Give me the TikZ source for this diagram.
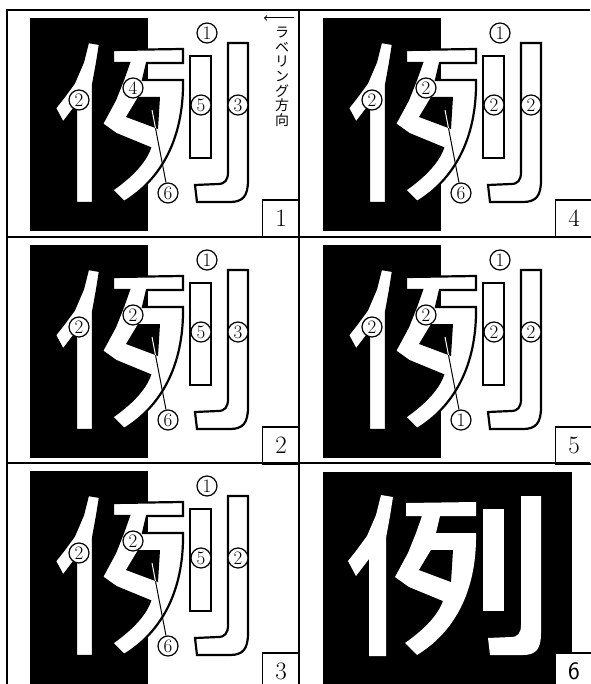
\documentclass[tikz,border=0pt]{standalone}
\usepackage{fontspec}
\newfontfamily\jpfont{Noto Sans CJK JP}

% strokes of the character, in pixels of one panel
\newcommand{\ninben}{(88,42) -- (83,62) -- (74,83) -- (63,98) -- (55,108) -- (63,123) -- (76,106) -- (76,203) -- (93,203) -- (93,85) -- (97,63) -- (100,44) -- cycle}
\newcommand{\gatsu}{(113,50) -- (183,49) -- (183,63) -- (147,63) -- (143,80) -- (183,80) .. controls (184,140) and (160,180) .. (124,202) -- (112,190) .. controls (132,176) and (145,162) .. (150,148) -- (116,134) -- (102,124) -- (115,100) -- (123,80) -- (129,63) -- (113,63) -- cycle}
\newcommand{\gatsuhollow}{(138,97) -- (160,97) -- (158,129) -- (126,117) -- cycle}
\newcommand{\shortbar}{(190,56) rectangle (211,158)}
\newcommand{\hookstroke}{(228,43) -- (248,43) -- (248,180) .. controls (248,196) and (243,202) .. (230,202) -- (197,202) -- (195,185) -- (218,184) .. controls (225,184) and (228,180) .. (228,172) -- cycle}

% character on the half black ground
\newcommand{\halfglyph}{%
  \fill (30,18) rectangle (148,231);
  \filldraw[glyph] \ninben;
  \filldraw[glyph] \gatsu;
  \filldraw[glyph] \shortbar;
  \filldraw[glyph] \hookstroke;
  \fill \gatsuhollow;
}

\begin{document}
\begin{tikzpicture}[x=1pt, y=-1pt, >=to,
    glyph/.style={fill=white, draw=black, line width=2.2pt},
    lbl/.style={circle, draw, fill=white, line width=1.2pt, minimum size=20pt, inner sep=0pt, font=\fontsize{19}{19}\selectfont},
    numbox/.style={draw, fill=white, line width=1.2pt, minimum width=37pt, minimum height=37pt, inner sep=0pt, font=\fontsize{25}{25}\selectfont}]
  \useasboundingbox (0,0) rectangle (590,684);

  % Panel 1
  \begin{scope}[shift={(0,0)}]
    \halfglyph
    \coordinate (p1tip) at (152,110);
    \node[lbl] (p1a) at (207,33) {1};
    \node[lbl] (p1b) at (79,100) {2};
    \node[lbl] (p1c) at (133,88) {4};
    \node[lbl] (p1d) at (201,105) {5};
    \node[lbl] (p1e) at (238,105) {3};
    \node[lbl] (p1f) at (168,193) {6};
    \draw[line width=1pt] (p1f) -- (p1tip);
    \begin{scope}
      \clip \gatsuhollow;
      \draw[white, line width=1pt] (p1f) -- (p1tip);
    \end{scope}
    \node[numbox] (p1n) at (281,218.5) {1};
    % labelling direction
    \coordinate (dirs) at (294,18);
    \coordinate (dire) at (264,18);
    \draw[->, line width=1pt] (dirs) -- (dire);
    \node[font=\jpfont\fontsize{14}{14.6}\selectfont, align=center, anchor=north, inner sep=0pt] (dir) at (282,27) {ラ\\ベ\\リ\\ン\\グ\\方\\向};
  \end{scope}

  % Panel 2
  \begin{scope}[shift={(0,227)}]
    \halfglyph
    \coordinate (p2tip) at (152,110);
    \node[lbl] (p2a) at (207,33) {1};
    \node[lbl] (p2b) at (79,100) {2};
    \node[lbl] (p2c) at (133,88) {2};
    \node[lbl] (p2d) at (201,105) {5};
    \node[lbl] (p2e) at (238,105) {3};
    \node[lbl] (p2f) at (168,193) {6};
    \draw[line width=1pt] (p2f) -- (p2tip);
    \begin{scope}
      \clip \gatsuhollow;
      \draw[white, line width=1pt] (p2f) -- (p2tip);
    \end{scope}
    \node[numbox] (p2n) at (281,218.5) {2};
  \end{scope}

  % Panel 3
  \begin{scope}[shift={(0,453)}]
    \halfglyph
    \coordinate (p3tip) at (152,110);
    \node[lbl] (p3a) at (207,33) {1};
    \node[lbl] (p3b) at (79,100) {2};
    \node[lbl] (p3c) at (133,88) {2};
    \node[lbl] (p3d) at (201,105) {5};
    \node[lbl] (p3e) at (238,105) {2};
    \node[lbl] (p3f) at (168,193) {6};
    \draw[line width=1pt] (p3f) -- (p3tip);
    \begin{scope}
      \clip \gatsuhollow;
      \draw[white, line width=1pt] (p3f) -- (p3tip);
    \end{scope}
    \node[numbox] (p3n) at (281,218.5) {3};
  \end{scope}

  % Panel 4
  \begin{scope}[shift={(293,0)}]
    \halfglyph
    \coordinate (p4tip) at (152,110);
    \node[lbl] (p4a) at (207,33) {1};
    \node[lbl] (p4b) at (79,100) {2};
    \node[lbl] (p4c) at (133,88) {2};
    \node[lbl] (p4d) at (201,105) {2};
    \node[lbl] (p4e) at (238,105) {2};
    \node[lbl] (p4f) at (168,193) {6};
    \draw[line width=1pt] (p4f) -- (p4tip);
    \begin{scope}
      \clip \gatsuhollow;
      \draw[white, line width=1pt] (p4f) -- (p4tip);
    \end{scope}
    \node[numbox] (p4n) at (281,218.5) {4};
  \end{scope}

  % Panel 5
  \begin{scope}[shift={(293,227)}]
    \halfglyph
    \coordinate (p5tip) at (152,110);
    \node[lbl] (p5a) at (207,33) {1};
    \node[lbl] (p5b) at (79,100) {2};
    \node[lbl] (p5c) at (133,88) {2};
    \node[lbl] (p5d) at (201,105) {2};
    \node[lbl] (p5e) at (238,105) {2};
    \node[lbl] (p5f) at (168,193) {1};
    \draw[line width=1pt] (p5f) -- (p5tip);
    \begin{scope}
      \clip \gatsuhollow;
      \draw[white, line width=1pt] (p5f) -- (p5tip);
    \end{scope}
    \node[numbox] (p5n) at (281,218.5) {5};
  \end{scope}

  % Panel 6: whole ground black
  \begin{scope}[shift={(293,453)}]
    \fill (30,19) rectangle (279,231);
    \fill[white] \ninben;
    \fill[white] \gatsu;
    \fill[white] \shortbar;
    \fill[white] \hookstroke;
    \fill \gatsuhollow;
    \node[numbox, font=\sffamily\fontsize{25}{25}\selectfont] (p6n) at (281,218.5) {6};
  \end{scope}

  % Frame
  \draw[line width=1.3pt] (7,684) -- (7,10) -- (590,10);
  \draw[line width=1.3pt] (299,10) -- (299,684);
  \draw[line width=1.3pt] (7,237) -- (590,237);
  \draw[line width=1.3pt] (7,463) -- (590,463);
\end{tikzpicture}
\end{document}
